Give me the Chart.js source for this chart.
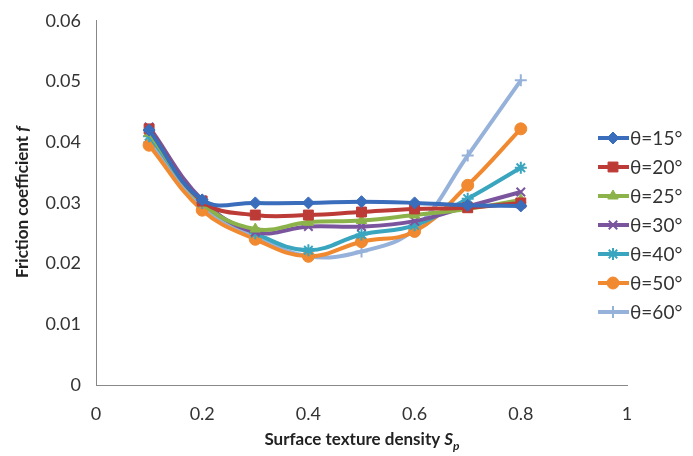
<!DOCTYPE html>
<html>
<head>
<meta charset="utf-8">
<script src="https://cdn.jsdelivr.net/npm/chart.js@4"></script>
<style>
  body { margin: 0; background: #fff; }
</style>
</head>
<body>
<canvas id="chart1" width="693" height="456"></canvas>
<script>
// data
let density = [0.1, 0.2, 0.3, 0.4, 0.5, 0.6, 0.7, 0.8]
let angles = ['θ=15°', 'θ=20°', 'θ=25°', 'θ=30°', 'θ=40°', 'θ=50°', 'θ=60°']
let f15 = [0.0420, 0.0305, 0.0300, 0.0300, 0.0302, 0.0300, 0.0296, 0.0295]
let f20 = [0.0422, 0.0303, 0.0280, 0.0280, 0.0285, 0.0290, 0.0292, 0.0300]
let f25 = [0.0415, 0.0300, 0.0257, 0.0268, 0.0271, 0.0280, 0.0290, 0.0305]
let f30 = [0.0425, 0.0305, 0.0252, 0.0261, 0.0261, 0.0270, 0.0294, 0.0318]
let f40 = [0.0410, 0.0300, 0.0250, 0.0222, 0.0248, 0.0263, 0.0307, 0.0358]
let f50 = [0.0395, 0.0288, 0.0240, 0.0212, 0.0236, 0.0253, 0.0329, 0.0422]
let f60 = [0.0400, 0.0295, 0.0245, 0.0212, 0.0220, 0.0257, 0.0378, 0.0502]
let series = [f15, f20, f25, f30, f40, f50, f60]

let colors = ['#3a6dbb', '#bd3b36', '#8cb34a', '#7a559e', '#3aa5bf', '#f0892f', '#96b2da']
let markers = ['rectRot', 'rect', 'triangle', 'crossRot', 'star', 'circle', 'cross']

let font = 'Lato, "Open Sans", sans-serif'

let datasets = series.map(function (vals, i) {
    return {
        label: angles[i],
        data: vals.map(function (v, j) { return { x: density[j], y: v } }),
        borderColor: colors[i],
        backgroundColor: colors[i],
        borderWidth: 4,
        pointStyle: markers[i],
        pointRadius: markers[i] == 'rect' ? 7 : 6,
        pointBorderWidth: (markers[i] == 'crossRot' || markers[i] == 'star' || markers[i] == 'cross') ? 2 : 1,
        tension: 0.4,
        cubicInterpolationMode: 'default'
    }
})

// axis titles with italic parts + overlapping legend, like the original
let decorations = {
    id: 'decorations',
    afterDraw: function (chart) {
        let c = chart.ctx
        c.save()
        c.fillStyle = '#222'
        // y title
        c.translate(23, 202)
        c.rotate(-Math.PI / 2)
        c.font = 'bold 17px ' + font
        let a = 'Friction coefficient '
        let wa = c.measureText(a).width
        c.font = 'bold italic 17px ' + font
        let wb = c.measureText('f').width
        let start = -(wa + wb) / 2
        c.textBaseline = 'middle'
        c.font = 'bold 17px ' + font
        c.fillText(a, start, 0)
        c.font = 'bold italic 17px ' + font
        c.fillText('f', start + wa, 0)
        c.restore()

        // x title
        c.save()
        c.fillStyle = '#222'
        c.textBaseline = 'middle'
        c.font = 'bold 17px ' + font
        let t = 'Surface texture density '
        let wt = c.measureText(t).width
        c.font = 'bold italic 17px ' + font
        let ws = c.measureText('S').width
        c.font = 'bold italic 12px ' + font
        let wp = c.measureText('p').width
        let x0 = 362 - (wt + ws + wp) / 2
        c.font = 'bold 17px ' + font
        c.fillText(t, x0, 440)
        c.font = 'bold italic 17px ' + font
        c.fillText('S', x0 + wt, 440)
        c.font = 'bold italic 12px ' + font
        c.fillText('p', x0 + wt + ws, 446)
        c.restore()

        // legend
        c.save()
        c.font = '19px ' + font
        c.textBaseline = 'middle'
        for (let i = 0; i < angles.length; i++) {
            let y = 138 + i * 29
            c.strokeStyle = colors[i]
            c.lineWidth = 4
            c.beginPath()
            c.moveTo(598, y)
            c.lineTo(629, y)
            c.stroke()
            c.fillStyle = colors[i]
            c.lineWidth = datasets[i].pointBorderWidth
            Chart.helpers.drawPoint(c, {
                pointStyle: markers[i],
                radius: datasets[i].pointRadius,
                rotation: 0,
                borderWidth: datasets[i].pointBorderWidth
            }, 613, y)
            c.fillStyle = '#333'
            c.fillText(angles[i], 630, y + 1)
        }
        c.restore()
    }
}

let ctx1 = document.getElementById('chart1').getContext('2d')
new Chart(ctx1, {
    type: 'line',
    data: { datasets: datasets },
    options: {
        responsive: false,
        animation: false,
        layout: { padding: { left: 0, top: 20, right: 66, bottom: 0 } },
        plugins: {
            legend: { display: false },
            tooltip: { enabled: false }
        },
        scales: {
            x: {
                type: 'linear',
                min: 0,
                max: 1,
                afterFit: function (s) { s.height = 71 },
                ticks: {
                    stepSize: 0.2,
                    color: '#333',
                    font: { family: font, size: 18 },
                    padding: 13,
                    maxRotation: 0,
                    callback: function (v) { return +v.toFixed(1) + '' }
                },
                grid: { display: false, drawTicks: true, tickLength: 5, tickColor: '#888' },
                border: { color: '#888', width: 1 }
            },
            y: {
                min: 0,
                max: 0.06,
                afterFit: function (s) { s.width = 96 },
                ticks: {
                    stepSize: 0.01,
                    color: '#333',
                    font: { family: font, size: 18 },
                    padding: 10,
                    callback: function (v) { return +v.toFixed(2) + '' }
                },
                grid: { display: false, drawTicks: true, tickLength: 5, tickColor: '#888' },
                border: { color: '#888', width: 1 }
            }
        }
    },
    plugins: [decorations]
})
</script>
</body>
</html>
